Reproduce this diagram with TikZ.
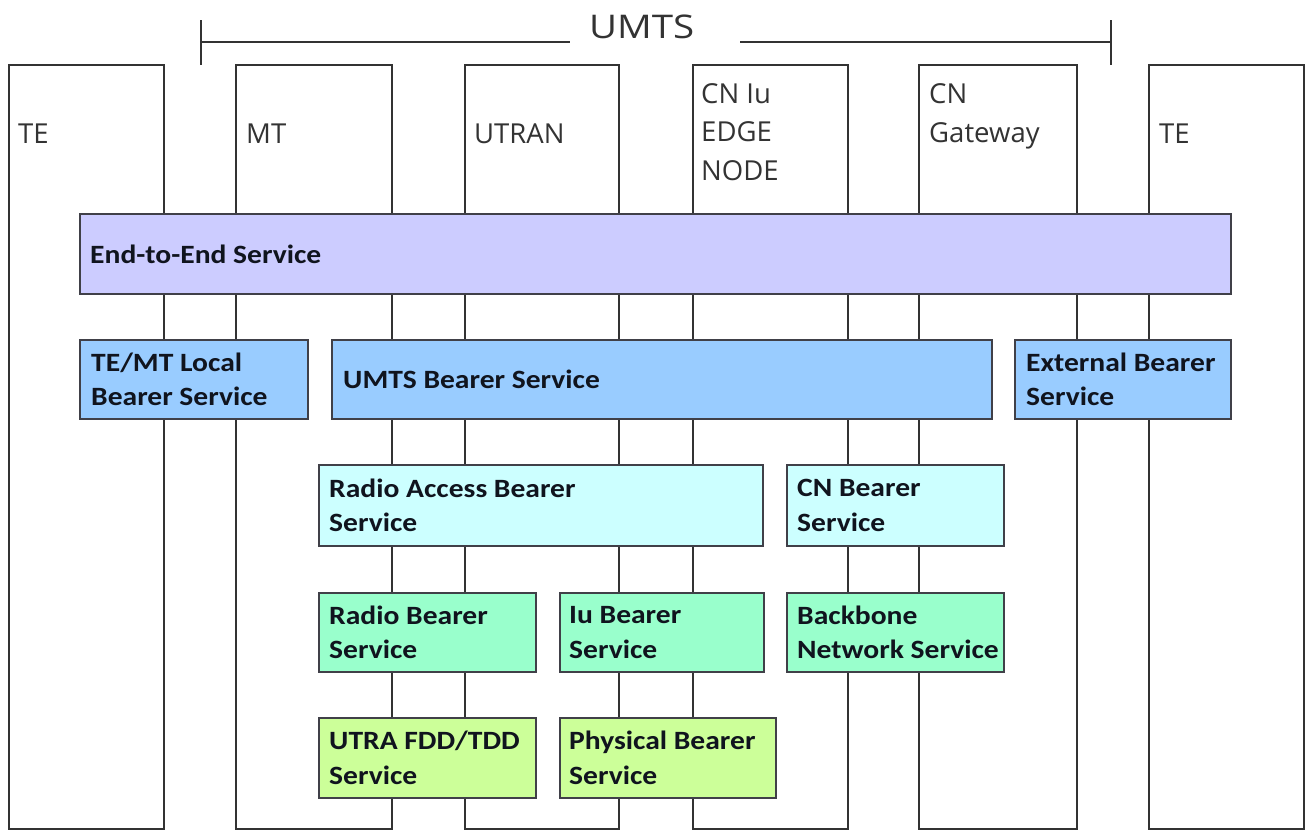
\documentclass[tikz,border=0pt]{standalone}
\usepackage{fontspec}
\setmainfont{Open Sans}
\newfontfamily\boxfont{Carlito}[FakeStretch=1.12]
\newfontfamily\umtsfont{Open Sans}[FakeStretch=1.18]
\definecolor{colline}{HTML}{333333}
\definecolor{boxline}{HTML}{404048}
\definecolor{coltxt}{HTML}{333333}
\definecolor{boxtxt}{HTML}{10141E}
\definecolor{lav}{HTML}{CCCCFF}
\definecolor{blu}{HTML}{99CCFF}
\definecolor{cya}{HTML}{CCFFFF}
\definecolor{mnt}{HTML}{99FFCC}
\definecolor{lgr}{HTML}{CCFF99}
\begin{document}
\begin{tikzpicture}[x=1pt,y=-1pt,
  col/.style={draw=colline, line width=1.5pt, inner sep=0pt, outer sep=0pt, anchor=north west},
  svc/.style={draw=boxline, line width=1.8pt, inner sep=0pt, outer sep=0pt, anchor=north west},
  svctext/.style={font=\boxfont\bfseries\fontsize{26.4}{34.5}\selectfont, text=boxtxt, align=left, inner sep=0pt, anchor=west},
  coltext/.style={font=\fontsize{27.5}{38.5}\selectfont, text=coltxt, align=left, inner sep=0pt, anchor=base west},
  bracket/.style={draw=colline, line width=1.5pt}
]
\useasboundingbox[fill=white] (0,0) rectangle (1308,831);

% columns
\node[col, minimum width=155pt, minimum height=764pt] (te1) at (9,65) {};
\node[col, minimum width=156pt, minimum height=764pt] (mt) at (236,65) {};
\node[col, minimum width=154pt, minimum height=764pt] (utran) at (465,65) {};
\node[col, minimum width=155pt, minimum height=764pt] (cniu) at (693,65) {};
\node[col, minimum width=158pt, minimum height=764pt] (cngw) at (919,65) {};
\node[col, minimum width=155pt, minimum height=764pt] (te2) at (1149,65) {};

% column labels (base = baseline of the last line)
\node[coltext] (te1t) at (18,143) {TE};
\node[coltext] (mtt) at (246,143) {MT};
\node[coltext] (utrant) at (474,143) {UTRAN};
\node[coltext] (cniut) at (701,180) {CN Iu\\EDGE\\NODE};
\node[coltext] (cngwt) at (929,142) {CN\\Gateway};
\node[coltext] (te2t) at (1159,143) {TE};

% UMTS bracket
\coordinate (bt1) at (201,20);
\coordinate (bb1) at (201,65);
\coordinate (bl) at (201,42);
\coordinate (gl) at (570,42);
\coordinate (gr) at (740,42);
\coordinate (br) at (1111,42);
\coordinate (bt2) at (1111,20);
\coordinate (bb2) at (1111,65);
\draw[bracket] (bt1) -- (bb1);
\draw[bracket] (bl) -- (gl);
\draw[bracket] (gr) -- (br);
\draw[bracket] (bt2) -- (bb2);
\node[font=\umtsfont\fontsize{32.6}{36}\selectfont, text=coltxt, anchor=base west, inner sep=0pt] (umts) at (589,38) {UMTS};

% service boxes
\node[svc, fill=lav, minimum width=1151pt, minimum height=80pt] (e2e) at (80,214) {};
\node[svc, fill=blu, minimum width=228pt, minimum height=79pt] (local) at (80,340) {};
\node[svc, fill=blu, minimum width=660pt, minimum height=79pt] (umtsb) at (332,340) {};
\node[svc, fill=blu, minimum width=216pt, minimum height=79pt] (ext) at (1015,340) {};
\node[svc, fill=cya, minimum width=444pt, minimum height=81pt] (rab) at (319,465) {};
\node[svc, fill=cya, minimum width=217pt, minimum height=81pt] (cnb) at (787,465) {};
\node[svc, fill=mnt, minimum width=217pt, minimum height=79pt] (rb) at (319,593) {};
\node[svc, fill=mnt, minimum width=204pt, minimum height=79pt] (iub) at (560,593) {};
\node[svc, fill=mnt, minimum width=217pt, minimum height=79pt] (bb) at (787,593) {};
\node[svc, fill=lgr, minimum width=217pt, minimum height=80pt] (utra) at (319,718) {};
\node[svc, fill=lgr, minimum width=216pt, minimum height=80pt] (phy) at (560,718) {};

% service labels
\node[svctext] (e2et) at ([xshift=10pt]e2e.west) {End-to-End Service};
\node[svctext] (localt) at ([xshift=11pt]local.west) {TE/MT Local\\Bearer Service};
\node[svctext] (umtsbt) at ([xshift=11pt]umtsb.west) {UMTS Bearer Service};
\node[svctext] (extt) at ([xshift=11pt]ext.west) {External Bearer\\Service};
\node[svctext] (rabt) at ([xshift=10pt]rab.west) {Radio Access Bearer\\Service};
\node[svctext] (cnbt) at ([xshift=10pt]cnb.west) {CN Bearer\\Service};
\node[svctext] (rbt) at ([xshift=10pt]rb.west) {Radio Bearer\\Service};
\node[svctext] (iubt) at ([xshift=9pt]iub.west) {Iu Bearer\\Service};
\node[svctext] (bbt) at ([xshift=10pt]bb.west) {Backbone\\Network Service};
\node[svctext] (utrat) at ([xshift=10pt]utra.west) {UTRA FDD/TDD\\Service};
\node[svctext] (phyt) at ([xshift=9pt]phy.west) {Physical Bearer\\Service};
\end{tikzpicture}
\end{document}
